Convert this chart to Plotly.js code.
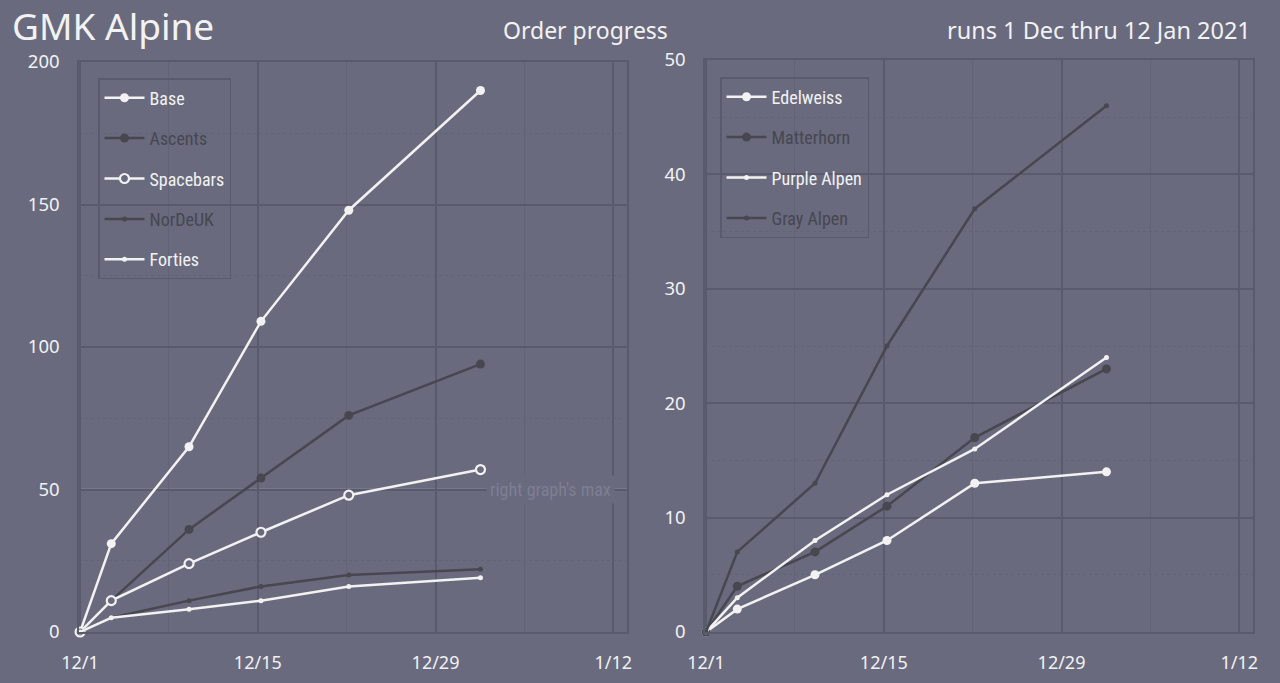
<!DOCTYPE html>
<html>
<head>
<meta charset="utf-8">
<script src="https://cdn.plot.ly/plotly-3.0.1.min.js"></script>
<style>
html,body{margin:0;padding:0;background:#696A7E;}
#chart{width:1280px;height:683px;}
text[style*="Roboto"] { font-stretch: condensed !important; }
</style>
</head>
<body>
<div id="chart"></div>
<script>
// ---- data ----
const dates = ['2020-12-01 00:00','2020-12-03 11:00','2020-12-09 14:00','2020-12-15 06:00','2020-12-22 04:00','2021-01-01 13:00'];
const base = [0,31,65,109,148,190];
const ascents = [0,11,36,54,76,94];
const spacebars = [0,11,24,35,48,57];
const nordeuk = [0,5,11,16,20,22];
const forties = [0,5,8,11,16,19];
const edelweiss = [0,2,5,8,13,14];
const matterhorn = [0,4,7,11,17,23];
const purpleAlpen = [0,3,8,12,16,24];
const grayAlpen = [0,7,13,25,37,46];
const xTickStart = '2020-12-01';
const rightMax = 50;

// ---- styles ----
const BG = '#696A7E';
const LIGHT = '#F2F2F2';
const DARK = '#46474F';
const GRID = '#595A6C';
const MINOR = '#626376';
const FONT = 'Noto Sans, Open Sans, sans-serif';
const NARROW = 'Roboto Condensed, Roboto';
const DAY = 86400000;

function name(t, c){ return '<span style="color:' + c + '">' + t + '</span>'; }

function tr(y, label, color, marker, xa, ya, leg){
  return {
    x: dates, y: y, name: name(label, color), type: 'scatter', mode: 'lines+markers',
    xaxis: xa, yaxis: ya, legend: leg, legendgroup: label, cliponaxis: false,
    line: {color: color, width: 2.5},
    marker: marker, hoverinfo: 'x+y+name'
  };
}
const big = c => ({symbol:'circle', size: 9, color: c, line:{width:0}});
const small = c => ({symbol:'circle', size: 5, color: c, line:{width:0}});
const open = c => ({symbol:'circle', size: 9, color: BG, line:{width:2.2, color: c}});

const data = [
  tr(base, 'Base', LIGHT, big(LIGHT), 'x', 'y', 'legend'),
  tr(ascents, 'Ascents', DARK, big(DARK), 'x', 'y', 'legend'),
  tr(spacebars, 'Spacebars', LIGHT, open(LIGHT), 'x', 'y', 'legend'),
  tr(nordeuk, 'NorDeUK', DARK, small(DARK), 'x', 'y', 'legend'),
  tr(forties, 'Forties', LIGHT, small(LIGHT), 'x', 'y', 'legend'),
  tr(edelweiss, 'Edelweiss', LIGHT, big(LIGHT), 'x2', 'y2', 'legend2'),
  tr(matterhorn, 'Matterhorn', DARK, big(DARK), 'x2', 'y2', 'legend2'),
  tr(purpleAlpen, 'Purple Alpen', LIGHT, small(LIGHT), 'x2', 'y2', 'legend2'),
  tr(grayAlpen, 'Gray Alpen', DARK, small(DARK), 'x2', 'y2', 'legend2')
];

function xax(domain, anchor){
  return {
    domain: domain, anchor: anchor, type: 'date',
    range: ['2020-11-30 22:00', '2021-01-13 02:00'],
    tick0: xTickStart, dtick: 14*DAY, tickformat: '%-m/%-d',
    showgrid: true, gridcolor: GRID, gridwidth: 1.5,
    minor: {dtick: 7*DAY, tick0: xTickStart, showgrid: true, gridcolor: MINOR, gridwidth: 1},
    showline: true, mirror: true, linecolor: GRID, linewidth: 1.5,
    zeroline: false, ticks: '', ticklabelstandoff: 14,
    tickfont: {family: FONT, size: 18, color: LIGHT}, fixedrange: true
  };
}
function yax(domain, anchor, max, dt){
  return {
    domain: domain, anchor: anchor, range: [0, max], dtick: dt,
    showgrid: true, gridcolor: GRID, gridwidth: 1.5,
    minor: {dtick: dt/2, showgrid: true, gridcolor: MINOR, griddash: 'dot', gridwidth: 1},
    showline: true, mirror: true, linecolor: GRID, linewidth: 1.5,
    zeroline: false, ticks: '', ticklabelstandoff: 14,
    tickfont: {family: FONT, size: 18.5, color: LIGHT}, fixedrange: true
  };
}

const legBase = {
  bgcolor: 'rgba(0,0,0,0)', bordercolor: GRID, borderwidth: 1.5,
  font: {family: NARROW, size: 18, color: LIGHT},
  xanchor: 'left', yanchor: 'top', tracegroupgap: 14, itemwidth: 40
};

const layout = {
  width: 1280, height: 683,
  paper_bgcolor: BG, plot_bgcolor: BG,
  margin: {l: 0, r: 0, t: 0, b: 0},
  showlegend: true,
  xaxis: xax([79/1280, 627/1280], 'y'),
  yaxis: yax([1-632/683, 1-62/683], 'x', 200, 50),
  xaxis2: xax([705/1280, 1253/1280], 'y2'),
  yaxis2: yax([1-632/683, 1-60/683], 'x2', 50, 10),
  legend: Object.assign({x: 98/1280, y: 1-78/683}, legBase),
  legend2: Object.assign({x: 720/1280, y: 1-77/683}, legBase),
  shapes: [{
    type: 'line', xref: 'x domain', yref: 'y', x0: 0, x1: 1, y0: rightMax, y1: rightMax,
    line: {color: '#82839A', width: 2}, layer: 'below'
  }],
  annotations: [
    {text: 'GMK Alpine', xref: 'paper', yref: 'paper', x: 10/1280, y: 1-25/683,
     xanchor: 'left', yanchor: 'middle', showarrow: false,
     font: {family: FONT, size: 37, color: LIGHT}},
    {text: 'Order progress', xref: 'paper', yref: 'paper', x: 585/1280, y: 1-30/683,
     xanchor: 'center', yanchor: 'middle', showarrow: false,
     font: {family: FONT, size: 23, color: LIGHT}},
    {text: 'runs 1 Dec thru 12 Jan 2021', xref: 'paper', yref: 'paper', x: 1253/1280, y: 1-30/683,
     xanchor: 'right', yanchor: 'middle', showarrow: false,
     font: {family: FONT, size: 23.5, color: LIGHT}},
    {text: "right graph's max", xref: 'x', yref: 'y', x: '2021-01-07 02:00', y: rightMax,
     xanchor: 'center', yanchor: 'middle', showarrow: false, bgcolor: BG, borderpad: 3,
     font: {family: NARROW, size: 18, color: '#7E7F94'}}
  ]
};

Plotly.newPlot('chart', data, layout, {displayModeBar: false, staticPlot: false});
</script>
</body>
</html>
